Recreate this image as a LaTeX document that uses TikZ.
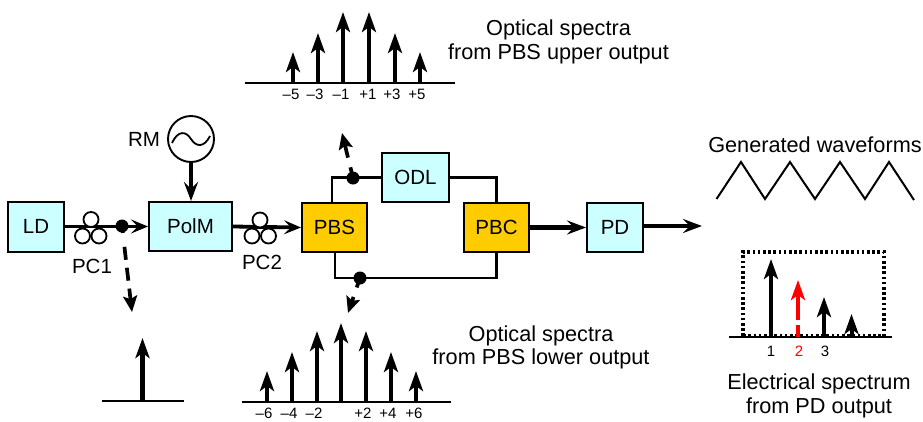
\documentclass[tikz,border=0pt]{standalone}
\usepackage{fontspec}
\setmainfont{Liberation Sans}
\usetikzlibrary{arrows.meta}
\definecolor{boxcyan}{HTML}{CCFFFF}
\definecolor{boxorange}{HTML}{FFCC00}
\tikzset{
  blockbox/.style={draw=black,line width=2pt,inner sep=0pt,font=\fontsize{20.5}{22}\selectfont},
  cyanbox/.style={blockbox,fill=boxcyan},
  orangebox/.style={blockbox,fill=boxorange},
  pcring/.style={circle,draw=black,fill=white,line width=1.8pt,minimum size=15pt,inner sep=0pt},
  tapdot/.style={circle,fill=black,minimum size=13pt,inner sep=0pt},
  fibre/.style={line width=3.8pt,-{Stealth[length=17pt,width=14pt,inset=7pt]}},
  fibrethick/.style={line width=4.8pt,-{Stealth[length=19pt,width=14pt,inset=7pt]}},
  loopline/.style={line width=2.7pt},
  probe/.style={line width=3.7pt,-{Stealth[length=16pt,width=14pt,inset=3pt]}},
  stick/.style={-{Stealth[length=20pt,width=14pt,inset=5pt]}},
  axisline/.style={line width=2pt},
  ticklabel/.style={inner sep=0pt,font=\fontsize{15}{17}\selectfont},
  numlabel/.style={inner sep=0pt,font=\fontsize{15}{17}\selectfont},
  sidelabel/.style={inner sep=0pt,font=\fontsize{20.5}{22}\selectfont},
  caption/.style={inner sep=0pt,align=center,font=\fontsize{21.7}{23.5}\selectfont},
}
\begin{document}
\begin{tikzpicture}[x=1pt,y=-1pt]
\useasboundingbox (0,0) rectangle (923,421);
% blocks
\node[cyanbox,minimum width=56pt,minimum height=50pt] (LD) at (36,226.5) {LD};
\node[cyanbox,minimum width=83pt,minimum height=49pt] (PolM) at (190.5,226.5) {PolM};
\node[orangebox,minimum width=65pt,minimum height=49pt] (PBS) at (334.5,227.5) {PBS};
\node[cyanbox,minimum width=67pt,minimum height=49pt] (ODL) at (415.5,177.5) {ODL};
\node[orangebox,minimum width=65pt,minimum height=49pt] (PBC) at (496.5,227.5) {PBC};
\node[cyanbox,minimum width=56pt,minimum height=49pt] (PD) at (615,227.5) {PD};
\node[circle,draw=black,line width=1.9pt,minimum size=46pt,inner sep=0pt] (RM) at (191,139) {};
\node[sidelabel] (RMlabel) at (144,139) {RM};
\draw[line width=1.8pt] (172,143) .. controls (178,130) and (186,131) .. (191,139)
   .. controls (196,147) and (204,148) .. (210,136);
% main path
\coordinate (pdout) at (702,226);
\draw[fibre] (LD.east) -- (PolM.west);
\draw[fibre] (PolM.east) -- (PBS.west);
\draw[fibrethick] (RM.south) -- (RM.south |- PolM.north);
\draw[fibrethick] (PBC.east) -- (PD.west);
\draw[fibrethick] (PD.east |- pdout) -- (pdout);
% interferometer
\node[tapdot] (topdot) at (353,178) {};
\node[tapdot] (botdot) at (360,278) {};
\draw[loopline] ([xshift=-2.5pt]PBS.north) |- (ODL.west);
\draw[loopline] (ODL.east) -| (PBC.north);
\draw[loopline] ([xshift=.5pt]PBS.south) |- (botdot.center) -- (botdot.center -| PBC.south) -- (PBC.south);
% polarisation controllers
\node[pcring] (pc1a) at (91,219.5) {};
\node[pcring] (pc1b) at (82.5,236) {};
\node[pcring] (pc1c) at (99,236) {};
\node[pcring] (pc2a) at (260,220) {};
\node[pcring] (pc2b) at (252,236) {};
\node[pcring] (pc2c) at (268.5,236) {};
\node[sidelabel] (PC1) at (92,266) {PC1};
\node[sidelabel] (PC2) at (262,262) {PC2};
% tap probes
\node[tapdot] (indot) at (122,226) {};
\coordinate (intip) at (132,312);
\coordinate (toptip) at (342,133);
\coordinate (bottip) at (348,313);
\draw[probe,dash pattern=on 7pt off 14pt on 13pt off 8pt on 13pt off 8pt on 40pt] (indot.center) -- (intip);
\draw[probe,dash pattern=on 11pt off 10pt on 40pt] (topdot.center) -- (toptip);
\draw[probe,dash pattern=on 10pt off 10pt on 40pt] (botdot.center) -- (bottip);
% input spectrum
\coordinate (inL) at (102,401);
\coordinate (inR) at (184,401);
\coordinate (inS) at (142.5,401);
\coordinate (inT) at (142.5,338);
\draw[axisline] (inL) -- (inR);
\draw[stick,line width=4.2pt] (inS) -- (inT);
% upper spectrum
\coordinate (upL) at (245,83);
\coordinate (upR) at (455,83);
\draw[axisline] (upL) -- (upR);
\foreach \n/\x/\t/\w/\lx/\l in {a/293/52/3.8/291/–5,b/318/33/3.8/315/–3,c/343/12/4.6/341/–1,d/369/12/4.6/368/+1,e/395/33/3.8/392/+3,f/420/52/3.8/417/+5}{
  \coordinate (up\n b) at (\x,83);
  \coordinate (up\n t) at (\x,\t);
  \draw[stick,line width=\w pt] (up\n b) -- (up\n t);
  \node[ticklabel] (up\n l) at (\lx,94) {\l};
}
% lower spectrum
\coordinate (loL) at (242,402);
\coordinate (loR) at (451,402);
\draw[axisline] (loL) -- (loR);
\foreach \n/\x/\t/\w in {a/267/371/3.8,b/292/352/3.8,c/317/331/4.2,d/341/323/4.6,e/366/331/4.2,f/391/352/3.8,g/416/371/3.8}{
  \coordinate (lo\n b) at (\x,402);
  \coordinate (lo\n t) at (\x,\t);
  \draw[stick,line width=\w pt] (lo\n b) -- (lo\n t);
}
\foreach \n/\x/\l in {a/264/–6,b/289/–4,c/314/–2,e/363/+2,f/388/+4,g/414/+6}{
  \node[ticklabel] (lo\n l) at (\x,413.5) {\l};
}
% waveform
\coordinate (w0) at (716.5,199);
\coordinate (w1) at (741,162);
\coordinate (w2) at (765,199);
\coordinate (w3) at (790,162);
\coordinate (w4) at (815,199);
\coordinate (w5) at (840,162);
\coordinate (w6) at (865,199);
\coordinate (w7) at (889,162);
\coordinate (w8) at (914,200);
\draw[line width=2pt] (w0) -- (w1) -- (w2) -- (w3) -- (w4) -- (w5) -- (w6) -- (w7) -- (w8);
% electrical spectrum
\coordinate (elA) at (743,336);
\coordinate (elB) at (884,252);
\draw[line width=3.2pt,dash pattern=on 2.6pt off 2.6pt] (elA) rectangle (elB);
\coordinate (elL) at (729,337);
\coordinate (elR) at (892,337);
\draw[axisline] (elL) -- (elR);
\coordinate (e1b) at (771,337);  \coordinate (e1t) at (771,259);
\coordinate (e2b) at (798,337);  \coordinate (e2t) at (798,280);
\coordinate (e3b) at (824,337);  \coordinate (e3t) at (824,297);
\coordinate (e4b) at (851.5,337);\coordinate (e4t) at (851.5,314);
\draw[stick,line width=4pt] (e1b) -- (e1t);
\draw[stick,line width=4.2pt,red,dash pattern=on 12pt off 5pt on 40pt] (e2b) -- (e2t);
\draw[stick,line width=4.2pt] (e3b) -- (e3t);
\draw[stick,line width=4pt] (e4b) -- (e4t);
\node[numlabel] (n1) at (771,351) {1};
\node[numlabel,text=red] (n2) at (799,351) {2};
\node[numlabel] (n3) at (825,351) {3};
% captions
\node[caption] (capU) at (558.5,42) {Optical spectra\\from PBS upper output};
\node[caption] (capL) at (541,347.5) {Optical spectra\\from PBS lower output};
\node[caption] (capG) at (815,145) {Generated waveforms};
\node[caption] (capE) at (819,396) {Electrical spectrum\\from PD output};
\end{tikzpicture}
\end{document}
